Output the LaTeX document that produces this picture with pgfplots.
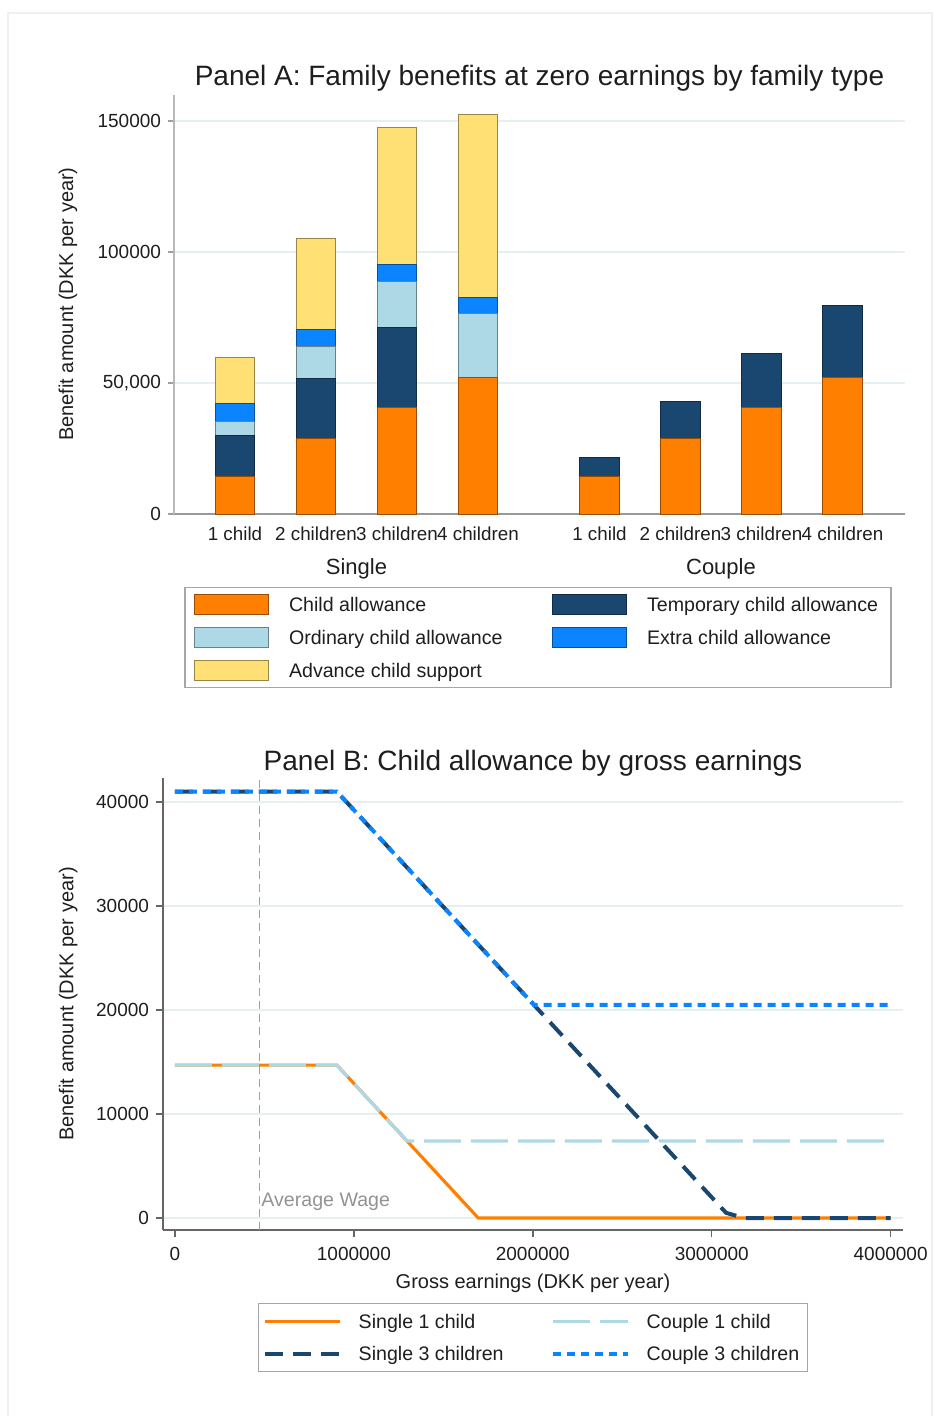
\documentclass[border=0pt]{standalone}
\usepackage{pgfplots}
\pgfplotsset{compat=1.18}
\usepackage{pgfplotstable}
\usepackage{fontspec}
\setmainfont{Liberation Sans}

\definecolor{cOrange}{HTML}{FF8000}
\definecolor{cNavy}{HTML}{1A476F}
\definecolor{cLight}{HTML}{ADD8E6}
\definecolor{cBlue}{HTML}{0A84FF}
\definecolor{cYellow}{HTML}{FFE074}
\definecolor{cGrid}{HTML}{E6EFF1}
\definecolor{cText}{HTML}{1E1E1E}

\newcommand{\fs}[1]{\fontsize{#1}{#1}\selectfont}

% Benefits at zero earnings, DKK per year, stacked by component
\pgfplotstableread{
x    child temp  ord   extra adv
1    14200 15950 5350  6700  17400
2    28900 22900 12060 6640  34800
3    40600 30500 17820 6500  52000
4    52300 0     24300 6200  69800
5.5  14200 7300  0     0     0
6.5  28900 14000 0     0     0
7.5  40600 20700 0     0     0
8.5  52200 27300 0     0     0
}\famA

\pgfplotsset{
  barA/.style={fill=#1, draw=#1!60!black, line width=0.5bp,
    legend image code/.code={\draw[##1] (0bp,-5bp) rectangle (37bp,5bp);}},
  lineB/.style={legend image code/.code={\draw[##1] (0bp,0bp) -- (37.5bp,0bp);}},
}

\begin{document}
\begin{tikzpicture}[every node/.style={text=cText}]
\path[use as bounding box] (0bp,0bp) rectangle (468bp,-708bp);
\draw[black!6, line width=0.6bp] (4bp,-6.5bp) rectangle (466bp,-712bp);

% ---------------- Panel A ----------------
\begin{axis}[
  at={(87bp,-257bp)}, anchor=south west,
  width=365.5bp, height=209.5bp, scale only axis,
  xmin=0.247, xmax=9.272, ymin=0, ymax=160000,
  axis x line*=bottom, axis y line*=left,
  x axis line style={draw=gray!80, line width=0.9bp, -},
  y axis line style={draw=gray!55, line width=1bp, -},
  ybar stacked, bar width=0.49,
  xtick={1,2,3,4,5.5,6.5,7.5,8.5},
  xticklabels={1 child,2 children,3 children,4 children,1 child,2 children,3 children,4 children},
  x tick style={draw=none},
  xticklabel style={font=\fs{9.4bp}},
  ytick={0,50000,100000,150000},
  yticklabels={0,{50,000},100000,150000},
  scaled y ticks=false,
  yticklabel style={font=\fs{9.5bp}},
  y tick style={draw=gray!75, line width=0.7bp},
  tick align=outside, major tick length=3bp,
  ymajorgrids, grid style={draw=cGrid, line width=0.7bp},
  ylabel={Benefit amount (DKK per year)},
  ylabel style={at={(axis description cs:-0.145,0.501)}, rotate=0, anchor=center, font=\fs{10bp}},
  title={Panel A: Family benefits at zero earnings by family type},
  title style={at={(axis description cs:0.5,1)}, anchor=center, yshift=2.5bp, font=\fs{14bp}},
  clip=false,
  legend columns=2,
  legend cell align=left,
  legend style={at={(axis description cs:0.498,-0.174)}, anchor=north,
    draw=gray!70, line width=0.7bp, font=\fs{9.8bp},
    inner xsep=4.5bp, inner ysep=1.5bp, row sep=2.5bp,
    nodes={inner sep=2bp, text height=8.3bp, text depth=1.7bp},
    /tikz/every odd column/.append style={column sep=8bp},
    /tikz/every even column/.append style={column sep=9.5bp}},
]
\addplot[barA=cOrange] table[x=x, y=child]{\famA};
\addlegendentry{\makebox[120bp][l]{Child allowance}}
\addplot[barA=cNavy] table[x=x, y=temp]{\famA};
\addlegendentry{Temporary child allowance}
\addplot[barA=cLight] table[x=x, y=ord]{\famA};
\addlegendentry{\makebox[120bp][l]{Ordinary child allowance}}
\addplot[barA=cBlue] table[x=x, y=extra]{\famA};
\addlegendentry{Extra child allowance}
\addplot[barA=cYellow] table[x=x, y=adv]{\famA};
\addlegendentry{\makebox[120bp][l]{Advance child support}}
\node[font=\fs{11bp}, yshift=-27.5bp] at (axis cs:2.5,0) {Single};
\node[font=\fs{11bp}, yshift=-27.5bp] at (axis cs:7,0) {Couple};
\end{axis}

% ---------------- Panel B ----------------
\begin{axis}[
  at={(81.5bp,-615bp)}, anchor=south west,
  width=370bp, height=226bp, scale only axis,
  xmin=-67000, xmax=4069000, ymin=-1154, ymax=42308,
  axis x line*=bottom, axis y line*=left,
  axis line style={draw=black!60, line width=0.8bp, -},
  xtick={0,1000000,2000000,3000000,4000000},
  xticklabels={0,1000000,2000000,3000000,4000000},
  ytick={0,10000,20000,30000,40000},
  yticklabels={0,10000,20000,30000,40000},
  scaled x ticks=false, scaled y ticks=false,
  ticklabel style={font=\fs{9.5bp}},
  xticklabel style={yshift=-1.5bp},
  tick style={draw=black!60, line width=0.7bp},
  tick align=outside, major tick length=3.5bp,
  ymajorgrids, grid style={draw=cGrid, line width=0.7bp},
  xlabel={Gross earnings (DKK per year)},
  xlabel style={at={(axis description cs:0.5,-0.117)}, anchor=center, font=\fs{10bp}},
  ylabel={Benefit amount (DKK per year)},
  ylabel style={at={(axis description cs:-0.128,0.5)}, rotate=0, anchor=center, font=\fs{10bp}},
  title={Panel B: Child allowance by gross earnings},
  title style={at={(axis description cs:0.5,1)}, anchor=center, yshift=1.5bp, font=\fs{14bp}},
  legend columns=2,
  legend cell align=left,
  legend style={at={(axis description cs:0.5,-0.1615)}, anchor=north,
    draw=gray!70, line width=0.7bp, font=\fs{9.8bp},
    inner xsep=2bp, inner ysep=2bp, row sep=2bp,
    nodes={inner sep=2bp, text height=8.3bp, text depth=1.7bp},
    /tikz/every odd column/.append style={column sep=6.5bp},
    /tikz/every even column/.append style={column sep=4bp}},
]
% average wage marker
\addplot[forget plot, draw=gray!75, line width=0.5bp, dash pattern=on 4bp off 2.5bp]
  coordinates {(470000,-1154) (470000,42308)};
\node[anchor=west, text=gray!85, font=\fs{9.8bp}, inner sep=1bp] at (axis cs:470000,1600) {Average Wage};

\addplot[lineB, draw=cOrange, line width=1.6bp] coordinates {
  (0,14700) (905000,14700) (1695000,0) (4000000,0)};
\addlegendentry{\makebox[90bp][l]{Single 1 child}}
\addplot[lineB, draw=cLight, line width=1.6bp, dash pattern=on 18.5bp off 5bp] coordinates {
  (0,14700) (905000,14700) (1297000,7400) (4000000,7400)};
\addlegendentry{Couple 1 child}
\addplot[lineB, draw=cNavy, line width=2bp, dash pattern=on 9bp off 5bp] coordinates {
  (0,41000) (905000,41000) (3080000,500) (3180000,0) (4000000,0)};
\addlegendentry{\makebox[90bp][l]{Single 3 children}}
\addplot[lineB, draw=cBlue, line width=2bp, dash pattern=on 4bp off 3bp] coordinates {
  (0,41000) (905000,41000) (2006000,20500) (4000000,20500)};
\addlegendentry{Couple 3 children}
\end{axis}
\end{tikzpicture}
\end{document}
